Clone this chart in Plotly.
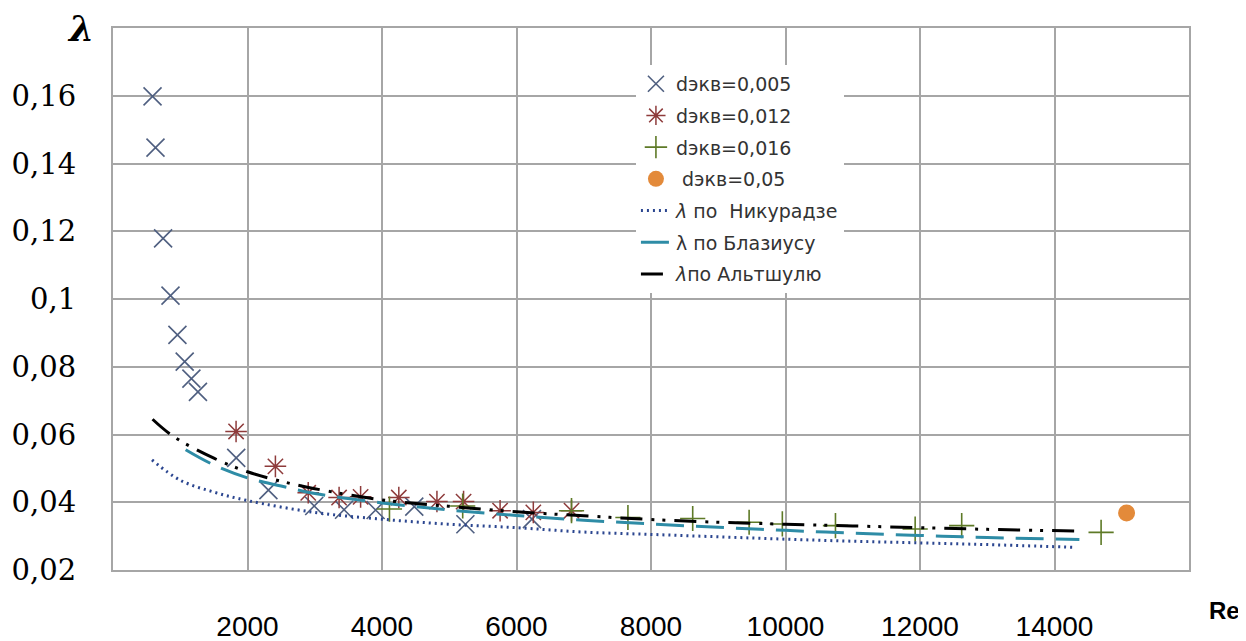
import plotly.graph_objects as go

# ---- data ----
re_005 = [588, 632, 745, 855, 958, 1066, 1166, 1263, 1832, 2311, 2992, 3436, 3905, 4480, 5240, 6230]
lam_005 = [0.1598, 0.1447, 0.1179, 0.1010, 0.0894, 0.0815, 0.0765, 0.0726, 0.0531, 0.0436, 0.0389, 0.0378, 0.0377, 0.0387, 0.0335, 0.0350]

re_012 = [1830, 2415, 2903, 3362, 3682, 4250, 4817, 5213, 5756, 6250, 6818]
lam_012 = [0.0609, 0.0506, 0.0428, 0.0414, 0.0416, 0.0414, 0.0402, 0.0402, 0.0375, 0.0370, 0.0375]

re_016 = [4111, 5200, 6818, 7657, 8620, 9459, 9953, 10743, 11928, 12620, 14693]
lam_016 = [0.0380, 0.0389, 0.0375, 0.0355, 0.0352, 0.0341, 0.0336, 0.0331, 0.0321, 0.0331, 0.0311]

re_05 = [15072]
lam_05 = [0.0368]

re_nik = [580, 1000, 1500, 2000, 3000, 4000, 5000, 6000, 7000, 8000, 9000, 10000, 11000, 12000, 13000, 14300]
lam_nik = [0.0525, 0.0465, 0.0430, 0.0405, 0.0370, 0.0350, 0.0335, 0.0325, 0.0312, 0.0305, 0.0298, 0.0291, 0.0285, 0.0280, 0.0275, 0.0267]

re_bla = [1080, 1500, 2000, 2500, 3000, 4000, 5000, 6000, 7000, 8000, 9000, 10000, 11000, 12000, 13000, 14370]
lam_bla = [0.0555, 0.0510, 0.0472, 0.0448, 0.0426, 0.0398, 0.0377, 0.0361, 0.0347, 0.0336, 0.0326, 0.0317, 0.0309, 0.0302, 0.0296, 0.0290]

re_alt = [588, 900, 1500, 2000, 2500, 3000, 4000, 5000, 6000, 7000, 8000, 9000, 10000, 11000, 12000, 13000, 14320]
lam_alt = [0.0645, 0.0594, 0.0530, 0.0490, 0.0462, 0.0440, 0.0407, 0.0388, 0.0372, 0.0360, 0.0349, 0.0341, 0.0335, 0.0330, 0.0325, 0.0320, 0.0315]

x_ticks = [2000, 4000, 6000, 8000, 10000, 12000, 14000]
y_ticks = [0.02, 0.04, 0.06, 0.08, 0.10, 0.12, 0.14, 0.16]
y_ticktext = ["0,02", "0,04", "0,06", "0,08", "0,1", "0,12", "0,14", "0,16"]

fig = go.Figure()

fig.add_trace(go.Scatter(x=re_005, y=lam_005, mode="markers", name="dэкв=0,005", legendgroup="a",
                         marker=dict(symbol="x-thin-open", size=18, color="#4F5F80", line=dict(width=1.6, color="#4F5F80"))))
fig.add_trace(go.Scatter(x=re_012, y=lam_012, mode="markers", name="dэкв=0,012", legendgroup="b",
                         marker=dict(symbol="asterisk-open", size=18, color="#8E3B3B", line=dict(width=1.5, color="#8E3B3B"))))
fig.add_trace(go.Scatter(x=re_016, y=lam_016, mode="markers", name="dэкв=0,016", legendgroup="c",
                         marker=dict(symbol="cross-thin-open", size=18, color="#5E7A27", line=dict(width=1.6, color="#5E7A27"))))
fig.add_trace(go.Scatter(x=re_05, y=lam_05, mode="markers", name=" dэкв=0,05", legendgroup="d",
                         marker=dict(symbol="circle", size=17, color="#E38A3A")))
fig.add_trace(go.Scatter(x=re_nik, y=lam_nik, mode="lines", name="<i>λ</i> по  Никурадзе", legendgroup="e",
                         line=dict(color="#2B4690", width=3, dash="2px,4px", shape="spline")))
fig.add_trace(go.Scatter(x=re_bla, y=lam_bla, mode="lines", name="λ по Блазиусу", legendgroup="f",
                         line=dict(color="#2E8CA6", width=3, dash="28px,12px", shape="spline")))
fig.add_trace(go.Scatter(x=re_alt, y=lam_alt, mode="lines", name="<i>λ</i>по Альтшулю", legendgroup="g",
                         line=dict(color="#000000", width=3, dash="22px,9px,3px,8px,3px,9px", shape="spline")))

fig.update_layout(
    width=1238, height=633,
    margin=dict(l=105, r=57, t=20, b=71, autoexpand=False),
    paper_bgcolor="white", plot_bgcolor="white",
    showlegend=True,
    legend=dict(x=0.486, y=0.932, xanchor="left", yanchor="top",
                bgcolor="white", borderwidth=0,
                font=dict(family="DejaVu Sans", size=19, color="#333333"),
                traceorder="grouped", tracegroupgap=4, itemwidth=30),
    xaxis=dict(range=[0, 16000], tickvals=x_ticks, ticktext=[str(v) for v in x_ticks],
               showgrid=True, gridcolor="#A6A6A6", gridwidth=2,
               showline=True, linecolor="#A6A6A6", linewidth=2, mirror=True,
               zeroline=False, ticks="", ticklabelstandoff=30, automargin=False,
               tickfont=dict(family="Liberation Sans Narrow, Liberation Sans", size=28, color="#000000")),
    yaxis=dict(range=[0.02, 0.18], tickvals=y_ticks, ticktext=y_ticktext,
               showgrid=True, gridcolor="#A6A6A6", gridwidth=2,
               showline=True, linecolor="#A6A6A6", linewidth=2, mirror=True,
               zeroline=False, ticks="", ticklabelstandoff=29, automargin=False,
               tickfont=dict(family="DejaVu Serif", size=29, color="#000000")),
    annotations=[
        dict(text="<b><i>λ</i></b>", xref="paper", yref="paper", x=-0.03, y=1.0, xanchor="center", yanchor="middle",
             showarrow=False, font=dict(family="DejaVu Serif", size=36, color="#000000")),
        dict(text="<b>Re</b>", xref="paper", yref="paper", x=1.033, y=-0.075, xanchor="center", yanchor="middle",
             showarrow=False, font=dict(family="Liberation Sans", size=24, color="#000000")),
    ],
)

fig.write_html("out.html")
